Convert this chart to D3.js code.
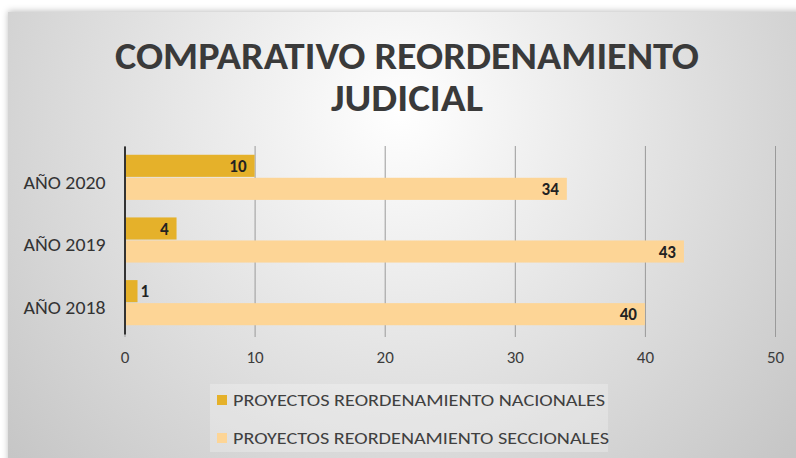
<!DOCTYPE html>
<html>
<head>
<meta charset="utf-8">
<script src="https://cdn.jsdelivr.net/npm/d3@7"></script>
<style>
  body { margin: 0; background: #fff; overflow: hidden; }
  svg { display: block; }
  text { font-family: Carlito, "Open Sans", sans-serif; }
</style>
</head>
<body>
<svg id="bar-chart"></svg>
<script>
// chart data
const categories = ['AÑO 2020', 'AÑO 2019', 'AÑO 2018'];
const nacionales = [10, 4, 1];
const seccionales = [34, 43, 40];
const seriesNames = ['PROYECTOS REORDENAMIENTO NACIONALES', 'PROYECTOS REORDENAMIENTO SECCIONALES'];
const xTicks = [0, 10, 20, 30, 40, 50];

const width = 796, height = 458;
const margin = { top: 146, left: 124.5 };
const colors = ['#E5B12A', '#FDD596'];

const svg = d3.select('#bar-chart')
  .attr('width', width)
  .attr('height', height);

// background gradient
const defs = svg.append('defs');
const grad = defs.append('radialGradient')
  .attr('id', 'bg')
  .attr('gradientUnits', 'userSpaceOnUse')
  .attr('cx', 400).attr('cy', 110).attr('r', 520);
grad.append('stop').attr('offset', '0%').attr('stop-color', '#ffffff');
grad.append('stop').attr('offset', '100%').attr('stop-color', '#c6c6c6');

const shadow = defs.append('filter').attr('id', 'sh')
  .attr('x', '-5%').attr('y', '-5%').attr('width', '110%').attr('height', '110%');
shadow.append('feDropShadow').attr('dx', 0).attr('dy', -1).attr('stdDeviation', 3)
  .attr('flood-color', '#000').attr('flood-opacity', 0.25);

svg.append('rect')
  .attr('x', 8).attr('y', 12)
  .attr('width', width).attr('height', height)
  .attr('fill', 'url(#bg)')
  .attr('filter', 'url(#sh)');

// title
const title = svg.append('g').attr('fill', '#3a3a3a')
  .attr('font-weight', 700).attr('font-size', 38).attr('text-anchor', 'middle');
title.append('text').attr('x', 407).attr('y', 69)
  .attr('textLength', 584).attr('lengthAdjust', 'spacingAndGlyphs')
  .text('COMPARATIVO REORDENAMIENTO');
title.append('text').attr('x', 407).attr('y', 111)
  .attr('textLength', 152).attr('lengthAdjust', 'spacingAndGlyphs')
  .text('JUDICIAL');

// scales
const xScale = d3.scaleLinear()
  .domain([0, 50])
  .range([0, 650.5]);

const yScale = d3.scaleBand()
  .domain(categories)
  .range([0, 188])
  .paddingInner(0.28)
  .paddingOuter(0.14);

const ySub = d3.scaleBand()
  .domain([0, 1])
  .range([0, yScale.bandwidth()])
  .paddingInner(0.04);

const plot = svg.append('g')
  .attr('transform', `translate(${margin.left}, ${margin.top})`);

// gridlines + x axis
const xAxis = d3.axisBottom(xScale)
  .tickValues(xTicks)
  .tickSize(191)
  .tickPadding(14);

plot.append('g')
  .call(xAxis)
  .call(g => g.select('.domain').remove())
  .call(g => g.selectAll('.tick line').attr('stroke', '#9a9a9a').attr('stroke-width', 1))
  .call(g => g.selectAll('.tick text')
    .attr('fill', '#3c3c3c').attr('font-size', 17).attr('font-weight', 400)
    .attr('font-family', 'Carlito, "Open Sans", sans-serif'));

// bars
const data = [];
categories.forEach((c, i) => {
  data.push({ category: c, s: 0, value: nacionales[i] });
  data.push({ category: c, s: 1, value: seccionales[i] });
});

plot.selectAll('rect.bar')
  .data(data)
  .enter()
  .append('rect')
  .attr('class', 'bar')
  .attr('x', 0)
  .attr('y', d => yScale(d.category) + ySub(d.s))
  .attr('width', d => xScale(d.value))
  .attr('height', ySub.bandwidth())
  .attr('fill', d => colors[d.s]);

// value labels
plot.selectAll('text.val')
  .data(data)
  .enter()
  .append('text')
  .attr('class', 'val')
  .attr('x', d => xScale(d.value) < 30 ? xScale(d.value) + 3 : xScale(d.value) - 8)
  .attr('y', d => yScale(d.category) + ySub(d.s) + ySub.bandwidth() / 2)
  .attr('dy', '0.36em')
  .attr('text-anchor', d => xScale(d.value) < 30 ? 'start' : 'end')
  .attr('font-size', 17)
  .attr('font-weight', 700)
  .attr('fill', '#222')
  .text(d => d.value);

// y axis
const yAxis = d3.axisLeft(yScale).tickSize(0).tickPadding(19);
plot.append('g')
  .call(yAxis)
  .call(g => g.select('.domain').attr('stroke', '#333').attr('stroke-width', 2))
  .call(g => g.selectAll('.tick text')
    .attr('fill', '#333').attr('font-size', 18).attr('font-weight', 400)
    .attr('dy', '0.62em')
    .attr('textLength', 82).attr('lengthAdjust', 'spacingAndGlyphs')
    .attr('font-family', 'Carlito, "Open Sans", sans-serif'));

// legend
const legend = svg.append('g');
legend.append('rect')
  .attr('x', 210).attr('y', 384).attr('width', 398).attr('height', 68)
  .attr('fill', '#ffffff').attr('fill-opacity', 0.25);

seriesNames.forEach((name, i) => {
  const y = 400 + i * 38;
  legend.append('rect')
    .attr('x', 217).attr('y', y - 5).attr('width', 10).attr('height', 10)
    .attr('fill', colors[i]);
  legend.append('text')
    .attr('x', 233).attr('y', y).attr('dy', '0.36em')
    .attr('font-size', 17).attr('fill', '#404040')
    .attr('textLength', i === 0 ? 372 : 376).attr('lengthAdjust', 'spacingAndGlyphs')
    .text(name);
});
</script>
</body>
</html>
